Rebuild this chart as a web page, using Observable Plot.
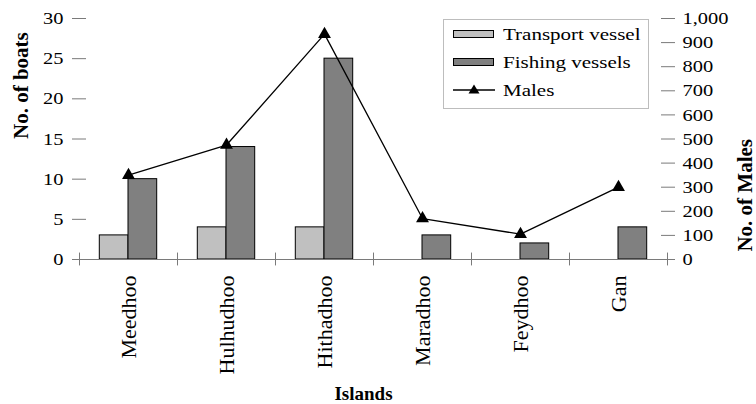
<!DOCTYPE html>
<html>
<head>
<meta charset="utf-8">
<script src="https://cdn.jsdelivr.net/npm/d3@7"></script>
<script src="https://cdn.jsdelivr.net/npm/@observablehq/plot@0.6"></script>
<style>
  html, body { margin: 0; padding: 0; background: #fff; }
  #wrap { position: relative; width: 756px; height: 404px; font-family: "Liberation Serif", "Times New Roman", serif; }
  #legend { position: absolute; left: 443px; top: 19px; width: 206px; height: 90px; border: 1px solid #bdbdbd; background: #fff; box-sizing: border-box; }
  .row { position: absolute; left: 9px; height: 20px; }
  .sw { position: absolute; left: 0; width: 41px; height: 8px; border: 1px solid #000; box-sizing: border-box; }
  .lbl { position: absolute; left: 50px; font-size: 17.5px; line-height: 20px; white-space: nowrap; transform: scaleX(1.2); transform-origin: left center; }
</style>
</head>
<body>
<div id="wrap"></div>
<script>
const islands = ["Meedhoo", "Hulhudhoo", "Hithadhoo", "Maradhoo", "Feydhoo", "Gan"];
const transport = [3, 4, 4, null, null, null];
const fishing = [10, 14, 25, 3, 2, 4];
const males = [350, 475, 935, 170, 105, 300];
const boatTicks = [0, 5, 10, 15, 20, 25, 30];
const maleTicks = [0, 100, 200, 300, 400, 500, 600, 700, 800, 900, 1000];
const seriesNames = ["Transport vessel", "Fishing vessels", "Males"];
const BOAT_MAX = 30, MALE_MAX = 1000;
const toBoat = v => v * BOAT_MAX / MALE_MAX;

const transportRows = islands.map((d, i) => ({island: d, value: transport[i]})).filter(d => d.value != null);
const fishingRows = islands.map((d, i) => ({island: d, value: fishing[i]})).filter(d => d.value != null);
const maleRows = islands.map((d, i) => ({island: d, value: toBoat(males[i])}));

const axisColor = "#7a7a7a";

const chart = Plot.plot({
  width: 756,
  height: 404,
  marginLeft: 79,
  marginRight: 89,
  marginTop: 18,
  marginBottom: 145,
  style: {fontFamily: "Liberation Serif, Times New Roman, serif", fontSize: "17.5px", color: "#000", background: "transparent"},
  x: {type: "band", domain: islands, padding: 0},
  y: {domain: [0, BOAT_MAX]},
  marks: [
    Plot.barY(transportRows, {x: "island", y: "value", fill: "#c0c0c0", stroke: "#000", strokeWidth: 1, insetLeft: 20.3, insetRight: 49}),
    Plot.barY(fishingRows, {x: "island", y: "value", fill: "#808080", stroke: "#000", strokeWidth: 1, insetLeft: 49, insetRight: 20.3}),
    Plot.axisY({anchor: "left", ticks: boatTicks, tickSize: 0, tickPadding: 16, line: true, stroke: axisColor, label: null, fontSize: 17.5}),
    Plot.axisY({anchor: "left", ticks: boatTicks, tickSize: 14, dx: 7, tickFormat: () => "", stroke: axisColor, label: null}),
    Plot.axisY({anchor: "right", ticks: maleTicks.map(toBoat), tickSize: 0, tickPadding: 15, line: true, stroke: axisColor, label: null, fontSize: 17.5,
      tickFormat: d => d3.format(",")(Math.round(d * MALE_MAX / BOAT_MAX))}),
    Plot.axisY({anchor: "right", ticks: maleTicks.map(toBoat), tickSize: 14, dx: -7, tickFormat: () => "", stroke: axisColor, label: null}),
    Plot.axisX({tickSize: 0, tickRotate: -90, tickPadding: 16, line: true, stroke: axisColor, label: null, fontSize: 22}),
    Plot.ruleY([0], {stroke: axisColor}),
    Plot.ruleX(islands, {x: d => d, dx: -49, y1: -0.8, y2: 0.8, stroke: axisColor}),
    Plot.ruleX(islands.slice(-1), {x: d => d, dx: 49, y1: -0.8, y2: 0.8, stroke: axisColor}),
    Plot.line(maleRows, {x: "island", y: "value", stroke: "#000", strokeWidth: 1.3}),
    Plot.dot(maleRows, {x: "island", y: "value", symbol: "triangle", r: 4.8, fill: "#000", stroke: "none"}),
    Plot.text(["No. of boats"], {text: d => d, frameAnchor: "left", dx: -58, rotate: -90, fontWeight: "bold", fontSize: 21}),
    Plot.text(["No. of Males"], {text: d => d, frameAnchor: "right", dx: 78, rotate: -90, fontWeight: "bold", fontSize: 21}),
    Plot.text(["Islands"], {text: d => d, frameAnchor: "bottom", dy: 140, dx: -10, fontWeight: "bold", fontSize: 19})
  ]
});

chart.querySelectorAll('g[aria-label="y-axis tick label"] text').forEach(t => {
  const tr = t.getAttribute("transform") || "";
  t.setAttribute("transform", tr + " scale(1.17,1)");
});

const wrap = document.getElementById("wrap");
wrap.appendChild(chart);

const legend = document.createElement("div");
legend.id = "legend";
const fills = ["#c0c0c0", "#808080", null];
const tops = [4, 32, 60];
seriesNames.forEach((name, i) => {
  const row = document.createElement("div");
  row.className = "row";
  row.style.top = tops[i] + "px";
  let key;
  if (fills[i]) {
    key = `<div class="sw" style="top:6px;background:${fills[i]}"></div>`;
  } else {
    key = `<svg style="position:absolute;left:0;top:0" width="42" height="20"><line x1="0" y1="10" x2="42" y2="10" stroke="#000" stroke-width="1.3"/><path d="M21,4.5 L26.5,13.5 L15.5,13.5 Z" fill="#000"/></svg>`;
  }
  row.innerHTML = key + `<span class="lbl">${name}</span>`;
  legend.appendChild(row);
});
wrap.appendChild(legend);
</script>
</body>
</html>
